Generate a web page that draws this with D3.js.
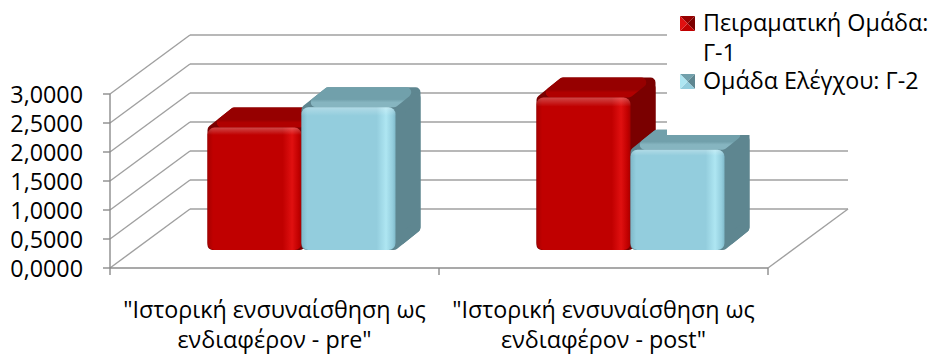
<!DOCTYPE html>
<html><head><meta charset="utf-8">
<script src="https://cdn.jsdelivr.net/npm/d3@7"></script>
<style>html,body{margin:0;padding:0;background:#fff;}svg{display:block;}</style>
</head><body>
<script>
// ---- data ----
const categories = ['"Ιστορική ενσυναίσθηση ως ενδιαφέρον - pre"', '"Ιστορική ενσυναίσθηση ως ενδιαφέρον - post"'];
const seriesNames = ['Πειραματική Ομάδα: Γ-1', 'Ομάδα Ελέγχου: Γ-2'];
const experimentalValues = [2.11, 2.63];
const controlValues = [2.46, 1.73];
const yTicks = [0, 0.5, 1, 1.5, 2, 2.5, 3];
const yTickLabels = ['0,0000', '0,5000', '1,0000', '1,5000', '2,0000', '2,5000', '3,0000'];

// ---- layout ----
const W = 929, H = 356;
const FONT = '"Open Sans", "Noto Sans", sans-serif';
const FS = 23.3;
const DEPTH = {dx: 80, dy: 59};
const BAR = {fx: 27, fy: 18, dx: 25, dy: 20, r: 5};
const palettes = [
  {front: '#c00000', frontEdge: '#a60000', frontHi: '#e01010', top: '#960000', topHi: '#b00000', side: '#7a0000'},
  {front: '#93cddd', frontEdge: '#7fb9c9', frontHi: '#aee6f2', top: '#71a0ab', topHi: '#86b5c0', side: '#5e8690'}
];

const svg = d3.select('body').append('svg').attr('width', W).attr('height', H);
const defs = svg.append('defs');

const x = d3.scaleBand().domain(categories).range([110, 768]);
const inner = 188;
const xs = d3.scaleBand().domain(seriesNames).range([0, inner]);
const groupPad = (x.bandwidth() - inner) / 2;
const y = d3.scaleLinear().domain([0, 3]).range([268, 94]);

const grid = svg.append('g').attr('stroke', '#a0a0a0').attr('stroke-width', 1.4).attr('fill', 'none');
const [x0r, x1r] = x.range();
yTicks.forEach(t => {
  grid.append('line').attr('x1', x0r + DEPTH.dx).attr('x2', x1r + DEPTH.dx)
    .attr('y1', y(t) - DEPTH.dy).attr('y2', y(t) - DEPTH.dy);
  grid.append('line').attr('x1', x0r).attr('y1', y(t))
    .attr('x2', x0r + DEPTH.dx).attr('y2', y(t) - DEPTH.dy);
});
grid.append('line').attr('x1', x1r).attr('y1', y(0)).attr('x2', x1r + DEPTH.dx).attr('y2', y(0) - DEPTH.dy);

const ax = svg.append('g').attr('stroke', '#8c8c8c').attr('stroke-width', 1.4).attr('fill', 'none');
ax.append('line').attr('x1', x0r).attr('x2', x0r).attr('y1', y(3)).attr('y2', y(0));
ax.append('line').attr('x1', x0r).attr('x2', x1r).attr('y1', y(0)).attr('y2', y(0));
yTicks.forEach(t => ax.append('line').attr('x1', x0r - 7).attr('x2', x0r).attr('y1', y(t)).attr('y2', y(t)));
[x0r, ...categories.slice(1).map(c => x(c)), x1r].forEach(b =>
  ax.append('line').attr('x1', b).attr('x2', b).attr('y1', y(0)).attr('y2', y(0) + 7));

svg.append('g').selectAll('text').data(yTicks).join('text')
  .attr('x', 83).attr('y', d => y(d) + 9).attr('text-anchor', 'end')
  .attr('font-family', FONT).attr('font-size', FS).attr('fill', '#000')
  .text((d, i) => yTickLabels[i]);

palettes.forEach((p, i) => {
  const g = defs.append('linearGradient').attr('id', 'front' + i).attr('x1', 0).attr('x2', 1).attr('y1', 0).attr('y2', 0);
  [[0, p.frontEdge], [0.06, p.front], [0.8, p.front], [0.9, p.frontHi], [0.97, p.front], [1, p.frontEdge]]
    .forEach(([o, c]) => g.append('stop').attr('offset', o).attr('stop-color', c));
  const gt = defs.append('linearGradient').attr('id', 'top' + i).attr('x1', 0).attr('x2', 0).attr('y1', 0).attr('y2', 1);
  [[0, p.top], [0.7, p.top], [1, p.topHi]].forEach(([o, c]) => gt.append('stop').attr('offset', o).attr('stop-color', c));
  const gv = defs.append('linearGradient').attr('id', 'fv' + i).attr('x1', 0).attr('x2', 0).attr('y1', 0).attr('y2', 1);
  [[0, '#ffffff', 0.28], [0.06, '#ffffff', 0], [1, '#ffffff', 0]].forEach(([o, c, a]) =>
    gv.append('stop').attr('offset', o).attr('stop-color', c).attr('stop-opacity', a));
});

function inset(pts, r) {
  const n = pts.length;
  const cx = d3.mean(pts, p => p[0]), cy = d3.mean(pts, p => p[1]);
  const normals = pts.map((p, i) => {
    const q = pts[(i + 1) % n];
    let ex = q[0] - p[0], ey = q[1] - p[1];
    const L = Math.hypot(ex, ey); ex /= L; ey /= L;
    let nx = -ey, ny = ex;
    const mx = (p[0] + q[0]) / 2, my = (p[1] + q[1]) / 2;
    if ((cx - mx) * nx + (cy - my) * ny < 0) { nx = -nx; ny = -ny; }
    return [nx, ny];
  });
  return pts.map((p, i) => {
    const a = normals[(i - 1 + n) % n], b = normals[i];
    const k = r / (1 + a[0] * b[0] + a[1] * b[1]);
    return [p[0] + (a[0] + b[0]) * k, p[1] + (a[1] + b[1]) * k];
  });
}
function roundPoly(g, pts, fill, r) {
  g.append('polygon').attr('points', inset(pts, r).map(p => p.join(',')).join(' '))
    .attr('fill', fill).attr('stroke', fill).attr('stroke-width', 2 * r).attr('stroke-linejoin', 'round');
}

const seriesValues = [experimentalValues, controlValues];
const yBar = v => (y(0) - BAR.fy) - (y(0) - y(v));
const bars = svg.append('g');
categories.forEach((c, ci) => {
  seriesNames.forEach((s, si) => {
    const v = seriesValues[si][ci];
    const p = palettes[si];
    const xl = x(c) + groupPad + xs(s) + BAR.fx;
    const xr = xl + xs.bandwidth();
    const yz = y(0) - BAR.fy;
    const yt = yBar(v);
    const g = bars.append('g');
    const sil = [[xl, yz], [xl, yt], [xl + BAR.dx, yt - BAR.dy], [xr + BAR.dx, yt - BAR.dy], [xr + BAR.dx, yz - BAR.dy], [xr, yz]];
    roundPoly(g, sil, p.side, BAR.r);
    roundPoly(g, [[xr, yt], [xr + BAR.dx, yt - BAR.dy], [xr + BAR.dx, yz - BAR.dy], [xr, yz]], p.side, BAR.r);
    roundPoly(g, [[xl, yt], [xl + BAR.dx, yt - BAR.dy], [xr + BAR.dx, yt - BAR.dy], [xr, yt]], `url(#top${si})`, BAR.r);
    g.append('rect').attr('x', xl).attr('y', yt).attr('width', xr - xl).attr('height', yz - yt)
      .attr('rx', BAR.r + 2).attr('fill', `url(#front${si})`);
    g.append('rect').attr('x', xl).attr('y', yt).attr('width', xr - xl).attr('height', yz - yt)
      .attr('rx', BAR.r + 2).attr('fill', `url(#fv${si})`);
  });
});

categories.forEach(c => {
  const lines = c.replace(' ενδιαφέρον', '\nενδιαφέρον').split('\n');
  const cx = x(c) + x.bandwidth() / 2;
  svg.append('text').attr('font-family', FONT).attr('font-size', FS).attr('fill', '#000')
    .attr('text-anchor', 'middle')
    .selectAll('tspan').data(lines).join('tspan')
    .attr('x', cx).attr('y', (d, i) => 318 + i * 30).text(d => d);
});

const leg = svg.append('g');
leg.append('rect').attr('x', 667).attr('y', 0).attr('width', W - 667).attr('height', 135).attr('fill', '#fff');
const legendLines = [seriesNames[0].replace(': ', ':\n').split('\n'), [seriesNames[1]]];
const legendRows = [[31, 61], [89]];
function marker(g, mx, my, s, p) {
  const c = [mx + s / 2, my + s / 2];
  const tri = (a, b, f) => g.append('polygon').attr('points', [a, b, c].map(q => q.join(',')).join(' ')).attr('fill', f);
  tri([mx, my], [mx + s, my], p.top);
  tri([mx + s, my], [mx + s, my + s], p.side);
  tri([mx + s, my + s], [mx, my + s], p.front);
  tri([mx, my + s], [mx, my], p.frontHi);
}
legendLines.forEach((lines, i) => {
  marker(leg, 680, legendRows[i][0] - 15, 15, palettes[i]);
  lines.forEach((t, k) => leg.append('text').attr('x', 703).attr('y', legendRows[i][k])
    .attr('font-family', FONT).attr('font-size', FS).attr('fill', '#000').text(t));
});
</script>
</body></html>
